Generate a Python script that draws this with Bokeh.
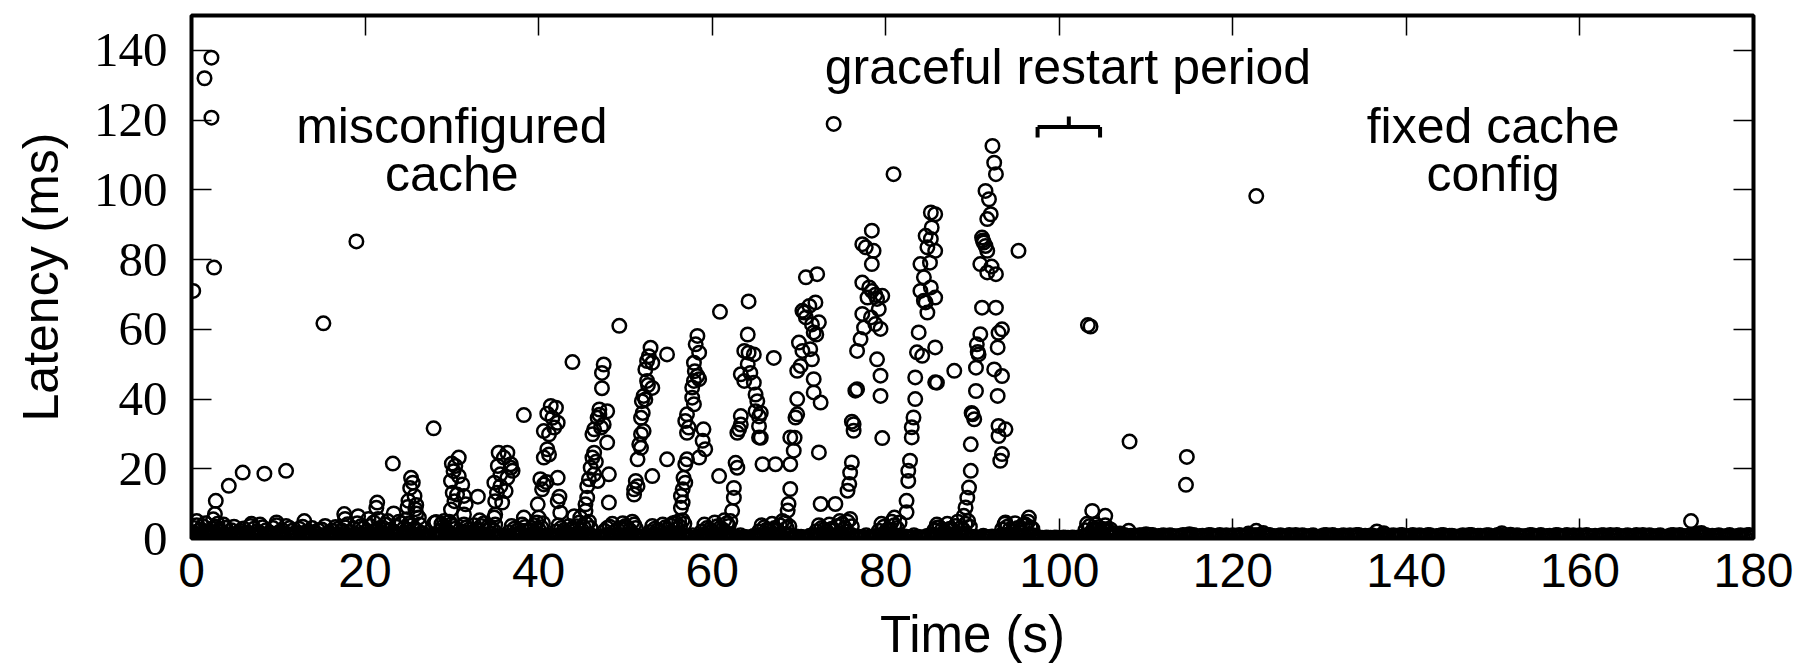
from bokeh.plotting import figure
from bokeh.models import Range1d, LinearAxis, FixedTicker
from bokeh.embed import file_html
from bokeh.resources import INLINE
from bokeh.core.properties import value

# ---------------- data (time in s, latency in ms) ----------------
x_ticks = [0, 20, 40, 60, 80, 100, 120, 140, 160, 180]
y_ticks = [0, 20, 40, 60, 80, 100, 120, 140]

# early period (0-24 s)
early_t = [0.2, 1.5, 2.3, 2.3, 2.6, 2.8, 2.7, 0.6, 4.3, 5.9, 8.4, 10.9, 15.2, 19.0,
           17.6, 17.7, 19.2, 20.4, 21.4, 21.3, 21.5, 23.2, 23.3, 13.0, 9.8, 6.9, 2.5]
early_v = [71.0, 132.0, 137.9, 120.7, 77.7, 10.8, 7.0, 5.0, 15.1, 18.9, 18.6, 19.4, 61.7, 85.2,
           7.0, 5.6, 6.4, 5.6, 10.3, 8.8, 5.6, 21.5, 7.2, 5.0, 4.6, 4.2, 5.5]

# periodic latency bursts (24-97 s)
burst_t = [
    25.3, 25.5, 25.2, 25.7, 25.0, 25.9, 25.8, 24.9, 25.9, 24.8, 26.2,
    30.8, 30.4, 30.2, 29.9, 30.8, 31.2, 30.1, 30.6, 31.4, 30.3, 31.6, 29.9, 31.4, 33.0, 33.2,
    28.0, 29.1, 30.0,
    35.4, 36.4, 36.0, 36.8, 37.0, 35.6, 36.4, 34.9, 35.6, 36.2, 35.2, 35.0, 35.8, 35.0, 34.9,
    36.8, 35.3,
    41.4, 42.0, 41.6, 42.2, 40.6, 41.2, 41.8, 41.0, 40.6, 41.2, 40.2, 40.6, 40.4, 42.2, 42.2,
    42.5, 39.9, 40.0, 38.3, 40.9, 41.0, 42.4,
    47.5, 47.3, 47.3, 47.0, 47.9, 46.8, 47.5, 46.4, 47.2, 46.2, 47.9, 46.4, 46.2, 46.0, 46.4,
    45.8, 46.8, 45.6, 48.1, 48.1, 45.6, 45.4, 45.4, 44.8, 44.1, 46.6, 47.0,
    52.9, 52.7, 52.5, 53.1, 52.3, 52.5, 53.1, 52.1, 51.9, 52.3, 51.8, 52.1, 51.8, 51.6, 51.8,
    51.4, 54.8, 54.8, 53.1, 51.2, 51.4, 51.0, 51.0, 52.0, 52.6,
    58.3, 58.1, 58.5, 57.9, 58.3, 57.9, 58.5, 57.7, 57.7, 57.9, 57.1, 56.9, 57.3, 57.1, 59.0,
    58.9, 59.2, 58.5, 57.1, 56.9, 56.7, 56.9, 56.6, 56.4, 56.6, 56.4, 56.2, 60.9, 60.8, 58.0,
    64.2, 64.1, 63.7, 64.2, 64.8, 64.1, 63.3, 64.4, 63.7, 64.8, 65.0, 65.2, 65.0, 65.4, 65.6,
    65.4, 65.6, 63.3, 63.1, 62.9, 63.3, 62.7, 62.9, 62.5, 62.5, 62.3, 65.8, 67.3, 67.1, 65.4,
    70.8, 72.1, 71.9, 71.2, 70.4, 70.8, 72.3, 71.7, 70.0, 70.4, 71.3, 71.5, 70.2, 69.8, 71.7,
    71.7, 72.5, 69.8, 69.6, 69.0, 69.4, 69.0, 69.0, 68.8, 68.7, 72.3, 72.5, 74.2, 70.6, 71.5,
    72.0, 69.8, 69.5,
    80.9, 78.4, 77.3, 77.7, 78.6, 78.4, 77.3, 78.1, 78.4, 79.6, 77.9, 79.0, 79.2, 77.3, 78.3,
    78.8, 79.4, 77.1, 76.7, 79.0, 79.4, 79.4, 76.7, 76.5, 76.3, 76.3, 79.6, 76.1, 75.9, 75.8,
    75.6, 74.0, 76.1, 77.5, 78.8,
    85.2, 85.7, 85.3, 84.6, 85.2, 84.8, 85.7, 84.0, 84.4, 85.2, 84.0, 84.4, 85.7, 84.8, 83.8,
    83.6, 84.2, 85.7, 85.7, 83.4, 83.4, 83.2, 83.0, 83.0, 82.8, 82.6, 82.6, 82.4, 82.4, 81.0,
    87.9, 85.1, 84.6, 85.9,
    92.3, 92.5, 92.7, 91.5, 91.9, 92.1, 91.7, 91.1, 91.3, 91.7, 91.5, 90.9, 91.7, 92.7, 91.1,
    92.7, 93.4, 93.0, 90.9, 90.5, 90.7, 92.9, 90.4, 92.5, 93.4, 90.4, 92.9, 90.0, 90.2, 93.0,
    93.8, 93.0, 89.8, 93.4, 93.2, 89.8, 89.6, 89.4, 89.2, 89.0, 95.3, 91.2, 90.6, 89.9, 92.2,
    27.9, 28.2, 38.3, 43.9, 49.3, 93.8, 96.5, 85.9,
]
burst_v = [
    17.4, 16.0, 14.5, 12.2, 10.8, 9.6, 8.4, 9.0, 7.2, 5.5, 6.0,
    23.2, 20.8, 19.3, 16.5, 17.9, 15.5, 13.1, 12.6, 12.2, 10.7, 9.8, 8.3, 6.9, 12.0, 5.2,
    4.5, 5.0, 21.5,
    24.6, 24.6, 23.2, 21.3, 19.4, 18.4, 17.4, 16.0, 15.0, 13.6, 13.1, 10.7, 10.3, 6.9, 6.0,
    20.3, 20.8,
    38.0, 37.5, 34.6, 33.2, 30.8, 29.9, 31.8, 25.6, 23.2, 24.1, 17.0, 15.5, 14.1, 17.4, 10.7,
    7.4, 9.8, 6.0, 6.0, 16.2, 35.8, 12.0,
    49.9, 47.5, 43.1, 37.0, 36.5, 34.6, 32.7, 31.3, 31.8, 29.9, 27.5, 24.6, 23.2, 20.3, 18.4,
    17.0, 16.5, 15.0, 18.4, 10.3, 11.7, 9.8, 7.9, 6.0, 6.4, 22.0, 35.5,
    54.7, 52.3, 50.9, 50.4, 48.5, 45.2, 43.2, 40.9, 39.4, 39.9, 34.6, 30.8, 29.9, 27.0, 26.0,
    22.7, 52.8, 22.7, 17.9, 16.5, 15.0, 12.6, 14.1, 36.0, 44.0,
    58.1, 55.7, 53.3, 50.4, 46.6, 45.2, 45.7, 43.3, 40.4, 38.5, 35.6, 33.7, 31.8, 30.3, 31.3,
    28.0, 25.6, 23.2, 22.7, 21.3, 17.4, 16.0, 14.1, 12.2, 10.3, 8.8, 5.0, 65.0, 17.9, 48.0,
    68.0, 58.5, 53.8, 53.3, 52.8, 50.0, 47.1, 47.5, 45.2, 44.7, 41.3, 39.4, 36.5, 35.0, 36.0,
    32.2, 28.9, 35.1, 31.3, 30.3, 32.7, 21.7, 20.3, 14.5, 11.7, 7.9, 21.3, 21.3, 51.8, 29.0,
    74.9, 75.8, 67.7, 66.7, 65.3, 63.4, 62.0, 59.1, 56.2, 53.8, 54.3, 51.4, 49.5, 48.1, 45.7,
    41.9, 39.0, 40.0, 34.7, 29.0, 25.2, 21.3, 14.2, 9.9, 8.0, 24.7, 9.9, 9.9, 64.8, 61.4,
    58.5, 35.6, 28.9,
    104.5, 88.3, 84.4, 83.5, 82.5, 78.7, 73.4, 72.0, 71.0, 69.6, 69.1, 68.7, 65.8, 64.4, 63.4,
    61.5, 60.1, 57.2, 53.8, 51.4, 46.7, 40.9, 42.8, 42.4, 32.8, 30.9, 28.8, 21.8, 18.9, 15.6,
    13.7, 118.9, 33.5, 60.5, 69.9,
    93.5, 93.0, 89.2, 86.8, 85.9, 83.5, 82.5, 78.7, 74.9, 72.0, 71.0, 68.2, 69.1, 64.8, 59.1,
    53.4, 52.4, 54.8, 44.8, 46.2, 40.0, 34.7, 31.9, 29.0, 22.3, 19.4, 16.5, 10.8, 7.5, 6.0,
    48.1, 79.1, 67.7, 44.7,
    112.6, 107.8, 104.5, 99.7, 97.3, 93.0, 91.6, 86.3, 84.9, 82.5, 83.9, 78.7, 76.3, 75.8, 66.2,
    66.2, 60.0, 59.0, 58.6, 55.7, 52.8, 54.8, 49.0, 48.5, 46.6, 42.3, 40.9, 35.6, 34.2, 32.3,
    31.3, 29.4, 27.0, 24.2, 22.3, 19.4, 14.6, 11.7, 8.9, 6.5, 82.5, 85.5, 53.5, 36.0, 78.0,
    31.6, 4.7, 35.4, 50.6, 61.0, 4.6, 6.0, 3.1,
]

# after the fix / graceful restart
after_t = [103.3, 103.6, 108.1, 114.7, 114.6, 103.8, 105.3, 122.7, 172.8]
after_v = [61.2, 60.8, 27.8, 23.4, 15.4, 7.9, 6.5, 98.2, 5.0]

# low-latency clumps just above the floor
clump_t = [0.3, 0.8, 1.3, 1.9, 2.4, 3.0, 3.4, 3.9, 4.6, 5.3, 6.0, 6.8, 7.5, 8.2, 9.0, 9.8,
           10.5, 11.3, 12.0, 12.8, 13.5, 14.3, 15.0, 15.8, 16.6, 17.3, 18.0, 18.7, 19.5, 20.2,
           21.0, 21.7, 22.3, 22.9, 23.6, 24.2, 24.8, 25.4, 26.0, 26.6,
           28.6, 29.0, 29.5, 29.9, 30.4,
           31.2, 31.7, 32.3, 32.9, 33.4, 34.0, 34.5, 35.0,
           36.6, 37.2, 37.8, 38.4, 39.0, 39.5, 40.0, 40.5,
           42.0, 42.6, 43.2, 43.8, 44.4, 45.0, 45.5, 46.0,
           47.6, 48.2, 48.8, 49.4, 50.0, 50.5, 51.0,
           52.8, 53.4, 54.0, 54.6, 55.2, 55.8, 56.3, 56.8,
           58.8, 59.4, 60.0, 60.6, 61.2, 61.7, 62.1,
           65.4, 66.0, 66.6, 67.2, 67.8, 68.4, 68.9,
           72.0, 72.6, 73.2, 73.8, 74.4, 75.0, 75.6, 76.1,
           79.2, 79.8, 80.4, 81.0, 81.6,
           85.6, 86.2, 86.8, 87.4, 88.0, 88.6, 89.2, 89.7,
           93.4, 94.0, 94.6, 95.2, 95.8, 96.4, 96.9,
           103.0, 103.5, 104.0, 104.5, 105.0, 105.6, 106.2,
           107.0, 108.0, 110.0, 115.0, 121.8, 122.7, 123.5, 136.6, 137.4, 151.0, 152.0,
           173.5, 174.0]
clump_v = [3.0, 2.2, 3.6, 1.8, 2.8, 4.2, 2.0, 3.1, 2.4, 1.6, 2.9, 3.6, 2.0, 3.2, 1.7, 3.8,
           2.3, 3.0, 1.5, 3.4, 2.1, 1.6, 2.6, 1.8, 3.3, 2.4, 4.1, 2.8, 3.5, 2.2,
           4.6, 3.0, 4.0, 2.5, 3.4, 4.4, 2.6, 3.8, 2.3, 1.6,
           2.2, 3.4, 2.0, 4.0, 2.8,
           2.0, 3.2, 1.8, 2.6, 3.6, 2.2, 3.0, 4.0,
           1.8, 2.8, 1.6, 3.3, 2.4, 3.8, 2.6, 4.4,
           2.0, 3.0, 1.8, 2.7, 3.5, 2.4, 4.2, 3.0,
           2.2, 3.4, 2.0, 2.9, 3.6, 2.4, 4.0,
           1.9, 2.8, 2.2, 3.2, 3.8, 4.6, 3.4, 4.2,
           2.0, 3.0, 2.2, 3.5, 2.6, 4.4, 5.0,
           2.0, 3.2, 2.4, 3.0, 3.8, 4.6, 3.5,
           2.1, 3.0, 2.0, 2.8, 3.6, 4.2, 4.8, 3.5,
           2.2, 3.4, 2.6, 3.8, 4.6,
           2.4, 3.2, 2.0, 2.8, 3.6, 3.0, 4.2, 3.4,
           2.6, 3.4, 2.2, 3.0, 3.8, 4.8, 2.8,
           2.4, 3.6, 2.8, 3.2, 2.6, 2.0, 1.6,
           1.4, 2.2, 1.2, 1.2, 1.4, 2.2, 1.6, 2.0, 1.5, 1.5, 1.1,
           1.4, 1.6]

# more low-latency samples inside the same clumps
clump2_t = [0.1, 0.6, 1.1, 1.6, 2.1, 2.7, 3.2, 3.7,
            4.9, 5.6, 6.4, 7.2, 7.9, 8.6, 9.4, 10.2, 10.9, 11.6, 12.4, 13.2, 13.9, 14.6, 15.4,
            16.2, 16.9, 17.7, 18.4, 19.1, 19.8, 20.6, 21.3, 22.0, 22.6, 23.3, 23.9, 24.5, 25.1,
            25.7, 26.3,
            28.8, 29.3, 29.7, 30.2,
            31.4, 32.0, 32.6, 33.1, 33.7, 34.2, 34.8,
            36.9, 37.5, 38.1, 38.7, 39.2, 39.8, 40.3,
            42.3, 42.9, 43.5, 44.1, 44.7, 45.2, 45.8,
            47.9, 48.5, 49.1, 49.7, 50.2, 50.8, 51.2,
            53.1, 53.7, 54.3, 54.9, 55.5, 56.0, 56.6,
            59.1, 59.7, 60.3, 60.9, 61.4, 61.9,
            65.7, 66.3, 66.9, 67.5, 68.1, 68.6,
            72.3, 72.9, 73.5, 74.1, 74.7, 75.3, 75.9,
            79.5, 80.1, 80.7, 81.3,
            85.9, 86.5, 87.1, 87.7, 88.3, 88.9, 89.5,
            93.7, 94.3, 94.9, 95.5, 96.1, 96.7,
            103.2, 103.8, 104.2, 104.8, 105.3, 105.9]
clump2_v = [1.8, 3.8, 2.6, 4.4, 2.0, 3.4, 2.6, 4.0,
            3.4, 2.2, 1.8, 2.8, 4.0, 2.4, 3.0, 2.0, 3.6, 2.2, 2.8, 1.8, 3.0, 2.4, 3.6,
            2.2, 2.8, 3.2, 1.9, 4.4, 3.0, 3.6, 2.4, 3.2, 5.0, 2.0, 4.8, 3.0, 4.4,
            2.8, 4.0,
            4.2, 2.6, 4.8, 3.6,
            4.0, 2.6, 3.8, 2.2, 4.4, 3.4, 2.4,
            3.6, 2.2, 4.0, 2.0, 3.0, 4.6, 3.2,
            3.8, 2.4, 3.6, 2.2, 4.6, 3.2, 4.8,
            3.0, 4.2, 2.6, 4.4, 3.2, 4.8, 3.0,
            3.6, 2.4, 4.0, 2.6, 4.4, 2.8, 5.2,
            4.0, 2.6, 4.6, 3.0, 5.2, 3.6,
            3.8, 2.6, 4.2, 2.4, 5.0, 3.0,
            3.8, 2.6, 4.0, 2.4, 5.0, 3.0, 5.6,
            4.2, 2.4, 4.8, 3.0,
            4.0, 2.6, 4.2, 2.4, 4.8, 2.6, 5.0,
            4.2, 2.6, 4.4, 2.4, 4.0, 3.2,
            4.2, 2.2, 4.0, 2.0, 3.8, 2.6]

# the floor: near-zero latencies throughout the run
floor_t = [
    0.0, 0.5, 1.0, 1.5, 2.0, 2.5, 3.0, 3.5, 4.0, 4.5, 5.0, 5.5, 6.0, 6.5, 7.0, 7.5, 8.0, 8.5, 9.0, 9.5,
    10.0, 10.5, 11.0, 11.5, 12.0, 12.5, 13.0, 13.5, 14.0, 14.5, 15.0, 15.5, 16.0, 16.5, 17.0, 17.5, 18.0, 18.5, 19.0, 19.5,
    20.0, 20.5, 21.0, 21.5, 22.0, 22.5, 23.0, 23.5, 24.0, 24.5, 25.0, 25.5, 26.0, 26.5, 27.0, 27.5, 28.0, 28.5, 29.0, 29.5,
    30.0, 30.5, 31.0, 31.5, 32.0, 32.5, 33.0, 33.5, 34.0, 34.5, 35.0, 35.5, 36.0, 36.5, 37.0, 37.5, 38.0, 38.5, 39.0, 39.5,
    40.0, 40.5, 41.0, 41.5, 42.0, 42.5, 43.0, 43.5, 44.0, 44.5, 45.0, 45.5, 46.0, 46.5, 47.0, 47.5, 48.0, 48.5, 49.0, 49.5,
    50.0, 50.5, 51.0, 51.5, 52.0, 52.5, 53.0, 53.5, 54.0, 54.5, 55.0, 55.5, 56.0, 56.5, 57.0, 57.5, 58.0, 58.5, 59.0, 59.5,
    60.0, 60.5, 61.0, 61.5, 62.0, 62.5, 63.0, 63.5, 64.0, 64.5, 65.0, 65.5, 66.0, 66.5, 67.0, 67.5, 68.0, 68.5, 69.0, 69.5,
    70.0, 70.5, 71.0, 71.5, 72.0, 72.5, 73.0, 73.5, 74.0, 74.5, 75.0, 75.5, 76.0, 76.5, 77.0, 77.5, 78.0, 78.5, 79.0, 79.5,
    80.0, 80.5, 81.0, 81.5, 82.0, 82.5, 83.0, 83.5, 84.0, 84.5, 85.0, 85.5, 86.0, 86.5, 87.0, 87.5, 88.0, 88.5, 89.0, 89.5,
    90.0, 90.5, 91.0, 91.5, 92.0, 92.5, 93.0, 93.5, 94.0, 94.5, 95.0, 95.5, 96.0, 96.5, 97.0, 97.5, 98.0, 98.5, 99.0, 99.5,
    100.0, 100.5, 101.0, 101.5, 102.0, 102.5, 103.0, 103.5, 104.0, 104.5, 105.0, 105.5,
    106.0, 106.5, 107.0, 107.5, 108.0, 108.5, 109.0, 109.5, 110.0, 110.5, 111.0, 111.5, 112.0, 112.5, 113.0, 113.5,
    114.0, 114.5, 115.0, 115.5, 116.0, 116.5, 117.0, 117.5, 118.0, 118.5, 119.0, 119.5, 120.0, 120.5, 121.0, 121.5,
    122.0, 122.5, 123.0, 123.5, 124.0, 124.5, 125.0, 125.5, 126.0, 126.5, 127.0, 127.5, 128.0, 128.5, 129.0, 129.5,
    130.0, 130.5, 131.0, 131.5, 132.0, 132.5, 133.0, 133.5, 134.0, 134.5, 135.0, 135.5, 136.0, 136.5, 137.0, 137.5,
    138.0, 138.5, 139.0, 139.5, 140.0, 140.5, 141.0, 141.5, 142.0, 142.5, 143.0, 143.5, 144.0, 144.5, 145.0, 145.5,
    146.0, 146.5, 147.0, 147.5, 148.0, 148.5, 149.0, 149.5, 150.0, 150.5, 151.0, 151.5, 152.0, 152.5, 153.0, 153.5,
    154.0, 154.5, 155.0, 155.5, 156.0, 156.5, 157.0, 157.5, 158.0, 158.5, 159.0, 159.5, 160.0, 160.5, 161.0, 161.5,
    162.0, 162.5, 163.0, 163.5, 164.0, 164.5, 165.0, 165.5, 166.0, 166.5, 167.0, 167.5, 168.0, 168.5, 169.0, 169.5,
    170.0, 170.5, 171.0, 171.5, 172.0, 172.5, 173.0, 173.5, 174.0, 174.5, 175.0, 175.5, 176.0, 176.5, 177.0, 177.5,
    178.0, 178.5, 179.0, 179.5, 180.0,
]
floor_v = [
    0.9, 1.2, 0.6, 1.4, 1.0, 1.6, 0.8, 1.3, 0.7, 1.1, 0.9, 1.5, 0.6, 1.2, 1.0, 0.8, 1.4, 0.7, 1.1, 0.9,
    1.3, 0.6, 1.0, 1.2, 0.8, 1.5, 0.7, 1.1, 0.9, 1.3, 0.6, 1.0, 1.4, 0.8, 1.2, 0.9, 1.1, 0.7, 1.3, 1.0,
    0.8, 1.2, 0.6, 1.4, 1.0, 0.9, 1.3, 0.7, 1.1, 1.5, 0.8, 1.2, 1.0, 0.6, 0.3, 0.2, 0.5, 0.8, 1.1, 0.9,
    1.2, 0.7, 1.0, 1.3, 0.8, 1.1, 0.6, 1.2, 0.9, 1.4, 0.7, 0.3, 0.2, 0.6, 1.0, 0.8, 1.2, 0.7, 1.1, 0.9,
    1.3, 0.8, 0.4, 0.2, 0.7, 1.0, 1.2, 0.8, 1.1, 0.6, 1.3, 0.9, 1.0, 0.4, 0.2, 0.6, 1.1, 0.8, 1.2, 0.7,
    1.0, 1.3, 0.8, 0.3, 0.2, 0.6, 1.0, 1.2, 0.7, 1.1, 0.9, 1.3, 0.8, 1.0, 0.6, 0.3, 0.2, 0.7, 1.1, 0.8,
    1.2, 0.9, 1.0, 0.7, 1.3, 0.4, 0.2, 0.3, 0.2, 0.4, 0.6, 1.0, 0.8, 1.2, 0.9, 1.1, 0.7, 1.3, 1.0, 0.4,
    0.2, 0.3, 0.2, 0.5, 0.9, 1.1, 0.7, 1.2, 0.8, 1.0, 1.3, 0.9, 1.1, 0.6, 0.3, 0.2, 0.3, 0.2, 0.6, 1.0,
    0.8, 1.2, 0.9, 0.4, 0.2, 0.3, 0.2, 0.3, 0.2, 0.4, 0.8, 1.1, 0.9, 1.2, 0.7, 1.0, 1.3, 0.8, 1.1, 0.9,
    0.4, 0.2, 0.3, 0.2, 0.3, 0.2, 0.4, 0.8, 1.1, 0.9, 1.2, 0.8, 1.0, 1.3, 0.9, 0.4, 0.2, 0.3, 0.2, 0.3,
    0.2, 0.3, 0.2, 0.3, 0.2, 0.4, 0.8, 1.1, 1.3, 0.9, 1.2, 1.0,
    0.4, 0.9, 0.6, 1.0, 0.5, 0.8, 0.3, 0.9, 0.6, 1.0, 0.4, 0.7, 0.9, 0.5, 0.8, 0.6,
    0.4, 0.9, 0.6, 1.0, 0.5, 0.8, 0.3, 0.9, 0.6, 1.0, 0.4, 0.7, 0.9, 0.5, 0.8, 0.6,
    0.4, 0.9, 0.6, 1.0, 0.5, 0.8, 0.3, 0.9, 0.6, 1.0, 0.4, 0.7, 0.9, 0.5, 0.8, 0.6,
    0.4, 0.9, 0.6, 1.0, 0.5, 0.8, 0.3, 0.9, 0.6, 1.0, 0.4, 0.7, 0.9, 0.5, 0.8, 0.6,
    0.4, 0.9, 0.6, 1.0, 0.5, 0.8, 0.3, 0.9, 0.6, 1.0, 0.4, 0.7, 0.9, 0.5, 0.8, 0.6,
    0.4, 0.9, 0.6, 1.0, 0.5, 0.8, 0.3, 0.9, 0.6, 1.0, 0.4, 0.7, 0.9, 0.5, 0.8, 0.6,
    0.4, 0.9, 0.6, 1.0, 0.5, 0.8, 0.3, 0.9, 0.6, 1.0, 0.4, 0.7, 0.9, 0.5, 0.8, 0.6,
    0.4, 0.9, 0.6, 1.0, 0.5, 0.8, 0.3, 0.9, 0.6, 1.0, 0.4, 0.7, 0.9, 0.5, 0.8, 0.6,
    0.4, 0.9, 0.6, 1.0, 0.5, 0.8, 0.3, 0.9, 0.6, 1.0, 0.4, 0.7, 0.9, 0.5, 0.8, 0.6,
    0.4, 0.9, 0.6, 1.0, 0.5,
]

# second row of floor samples, between the first ones
floor2_t = [
    0.25, 0.75, 1.25, 1.75, 2.25, 2.75, 3.25, 3.75, 4.25, 4.75, 5.25, 5.75, 6.25, 6.75, 7.25, 7.75, 8.25, 8.75, 9.25, 9.75,
    10.25, 10.75, 11.25, 11.75, 12.25, 12.75, 13.25, 13.75, 14.25, 14.75, 15.25, 15.75, 16.25, 16.75, 17.25, 17.75, 18.25, 18.75, 19.25, 19.75,
    20.25, 20.75, 21.25, 21.75, 22.25, 22.75, 23.25, 23.75, 24.25, 24.75, 25.25, 25.75, 26.25, 26.75, 27.25, 27.75, 28.25, 28.75, 29.25, 29.75,
    30.25, 30.75, 31.25, 31.75, 32.25, 32.75, 33.25, 33.75, 34.25, 34.75, 35.25, 35.75, 36.25, 36.75, 37.25, 37.75, 38.25, 38.75, 39.25, 39.75,
    40.25, 40.75, 41.25, 41.75, 42.25, 42.75, 43.25, 43.75, 44.25, 44.75, 45.25, 45.75, 46.25, 46.75, 47.25, 47.75, 48.25, 48.75, 49.25, 49.75,
    50.25, 50.75, 51.25, 51.75, 52.25, 52.75, 53.25, 53.75, 54.25, 54.75, 55.25, 55.75, 56.25, 56.75, 57.25, 57.75, 58.25, 58.75, 59.25, 59.75,
    60.25, 60.75, 61.25, 61.75, 62.25, 62.75, 63.25, 63.75, 64.25, 64.75, 65.25, 65.75, 66.25, 66.75, 67.25, 67.75, 68.25, 68.75, 69.25, 69.75,
    70.25, 70.75, 71.25, 71.75, 72.25, 72.75, 73.25, 73.75, 74.25, 74.75, 75.25, 75.75, 76.25, 76.75, 77.25, 77.75, 78.25, 78.75, 79.25, 79.75,
    80.25, 80.75, 81.25, 81.75, 82.25, 82.75, 83.25, 83.75, 84.25, 84.75, 85.25, 85.75, 86.25, 86.75, 87.25, 87.75, 88.25, 88.75, 89.25, 89.75,
    90.25, 90.75, 91.25, 91.75, 92.25, 92.75, 93.25, 93.75, 94.25, 94.75, 95.25, 95.75, 96.25, 96.75, 97.25, 97.75, 98.25, 98.75, 99.25, 99.75,
    100.25, 100.75, 101.25, 101.75, 102.25, 102.75, 103.25, 103.75, 104.25, 104.75, 105.25, 105.75,
    106.25, 106.75, 107.25, 107.75, 108.25, 108.75, 109.25, 109.75, 110.25, 110.75, 111.25, 111.75, 112.25, 112.75, 113.25, 113.75, 114.25, 114.75, 115.25, 115.75,
    116.25, 116.75, 117.25, 117.75, 118.25, 118.75, 119.25, 119.75, 120.25, 120.75, 121.25, 121.75, 122.25, 122.75, 123.25, 123.75, 124.25, 124.75, 125.25, 125.75,
    126.25, 126.75, 127.25, 127.75, 128.25, 128.75, 129.25, 129.75, 130.25, 130.75, 131.25, 131.75, 132.25, 132.75, 133.25, 133.75, 134.25, 134.75, 135.25, 135.75,
    136.25, 136.75, 137.25, 137.75, 138.25, 138.75, 139.25, 139.75, 140.25, 140.75, 141.25, 141.75, 142.25, 142.75, 143.25, 143.75, 144.25, 144.75, 145.25, 145.75,
    146.25, 146.75, 147.25, 147.75, 148.25, 148.75, 149.25, 149.75, 150.25, 150.75, 151.25, 151.75, 152.25, 152.75, 153.25, 153.75, 154.25, 154.75, 155.25, 155.75,
    156.25, 156.75, 157.25, 157.75, 158.25, 158.75, 159.25, 159.75, 160.25, 160.75, 161.25, 161.75, 162.25, 162.75, 163.25, 163.75, 164.25, 164.75, 165.25, 165.75,
    166.25, 166.75, 167.25, 167.75, 168.25, 168.75, 169.25, 169.75, 170.25, 170.75, 171.25, 171.75, 172.25, 172.75, 173.25, 173.75, 174.25, 174.75, 175.25, 175.75,
    176.25, 176.75, 177.25, 177.75, 178.25, 178.75, 179.25, 179.75,
]
floor2_v = [
    0.5, 0.2, 0.8, 0.4, 0.6, 0.3, 0.9, 0.5, 0.2, 0.7, 0.4, 0.8, 0.3, 0.6, 0.5, 0.9, 0.2, 0.7, 0.4, 0.6,
    0.5, 0.2, 0.8, 0.4, 0.6, 0.3, 0.9, 0.5, 0.2, 0.7, 0.4, 0.8, 0.3, 0.6, 0.5, 0.9, 0.2, 0.7, 0.4, 0.6,
    0.5, 0.2, 0.8, 0.4, 0.6, 0.3, 0.9, 0.5, 0.2, 0.7, 0.4, 0.8, 0.3, 0.6, 0.5, 0.9, 0.2, 0.7, 0.4, 0.6,
    0.5, 0.2, 0.8, 0.4, 0.6, 0.3, 0.9, 0.5, 0.2, 0.7, 0.4, 0.8, 0.3, 0.6, 0.5, 0.9, 0.2, 0.7, 0.4, 0.6,
    0.5, 0.2, 0.8, 0.4, 0.6, 0.3, 0.9, 0.5, 0.2, 0.7, 0.4, 0.8, 0.3, 0.6, 0.5, 0.9, 0.2, 0.7, 0.4, 0.6,
    0.5, 0.2, 0.8, 0.4, 0.6, 0.3, 0.9, 0.5, 0.2, 0.7, 0.4, 0.8, 0.3, 0.6, 0.5, 0.9, 0.2, 0.7, 0.4, 0.6,
    0.5, 0.2, 0.8, 0.4, 0.6, 0.3, 0.9, 0.5, 0.2, 0.7, 0.4, 0.8, 0.3, 0.6, 0.5, 0.9, 0.2, 0.7, 0.4, 0.6,
    0.5, 0.2, 0.8, 0.4, 0.6, 0.3, 0.9, 0.5, 0.2, 0.7, 0.4, 0.8, 0.3, 0.6, 0.5, 0.9, 0.2, 0.7, 0.4, 0.6,
    0.5, 0.2, 0.8, 0.4, 0.6, 0.3, 0.9, 0.5, 0.2, 0.7, 0.4, 0.8, 0.3, 0.6, 0.5, 0.9, 0.2, 0.7, 0.4, 0.6,
    0.5, 0.2, 0.8, 0.4, 0.6, 0.3, 0.9, 0.5, 0.2, 0.7, 0.4, 0.8, 0.3, 0.6, 0.1, 0.2, 0.1, 0.2, 0.1, 0.2,
    0.1, 0.2, 0.1, 0.2, 0.1, 0.6, 0.9, 0.5, 0.8, 0.7, 0.4, 0.8,
    0.7, 0.4, 1.0, 0.6, 0.8, 0.5, 0.9, 0.3, 0.7, 1.0, 0.5, 0.8, 0.6, 0.9, 0.4, 0.7, 1.0, 0.6, 0.8, 0.5,
    0.7, 0.4, 1.0, 0.6, 0.8, 0.5, 0.9, 0.3, 0.7, 1.0, 0.5, 0.8, 0.6, 0.9, 0.4, 0.7, 1.0, 0.6, 0.8, 0.5,
    0.7, 0.4, 1.0, 0.6, 0.8, 0.5, 0.9, 0.3, 0.7, 1.0, 0.5, 0.8, 0.6, 0.9, 0.4, 0.7, 1.0, 0.6, 0.8, 0.5,
    0.7, 0.4, 1.0, 0.6, 0.8, 0.5, 0.9, 0.3, 0.7, 1.0, 0.5, 0.8, 0.6, 0.9, 0.4, 0.7, 1.0, 0.6, 0.8, 0.5,
    0.7, 0.4, 1.0, 0.6, 0.8, 0.5, 0.9, 0.3, 0.7, 1.0, 0.5, 0.8, 0.6, 0.9, 0.4, 0.7, 1.0, 0.6, 0.8, 0.5,
    0.7, 0.4, 1.0, 0.6, 0.8, 0.5, 0.9, 0.3, 0.7, 1.0, 0.5, 0.8, 0.6, 0.9, 0.4, 0.7, 1.0, 0.6, 0.8, 0.5,
    0.7, 0.4, 1.0, 0.6, 0.8, 0.5, 0.9, 0.3, 0.7, 1.0, 0.5, 0.8, 0.6, 0.9, 0.4, 0.7, 1.0, 0.6, 0.8, 0.5,
    0.7, 0.4, 1.0, 0.6, 0.8, 0.5, 0.9, 0.3,
]

# annotations
ann_text = ["misconfigured", "cache", "graceful restart period", "fixed cache", "config"]
ann_t = [30.0, 30.0, 101.0, 150.0, 150.0]
ann_v = [118.4, 104.5, 135.1, 118.4, 104.5]

# bracket marking the restart period
br_x0 = [97.5, 97.5, 104.7, 101.1]
br_y0 = [118.0, 118.0, 118.0, 118.0]
br_x1 = [104.7, 97.5, 104.7, 101.1]
br_y1 = [118.0, 115.0, 115.0, 121.0]

# ---------------- figure ----------------
SANS = "Liberation Sans"
SERIF = "Liberation Serif"

p = figure(width=1801, height=667, x_range=Range1d(0, 180), y_range=Range1d(0, 150),
           output_backend="svg", toolbar_location=None,
           min_border_left=191, min_border_right=48, min_border_top=15, min_border_bottom=129)
p.grid.visible = False
p.background_fill_color = "white"
p.border_fill_color = "white"
p.outline_line_color = "black"
p.outline_line_width = 4

def style_axis(ax, ticks, show_labels, font, size):
    ax.ticker = FixedTicker(ticks=ticks, minor_ticks=[])
    ax.major_tick_in = 20
    ax.major_tick_out = 0
    ax.major_tick_line_width = 1.5
    ax.major_tick_line_color = "black"
    ax.minor_tick_line_color = None
    ax.axis_line_color = None
    if show_labels:
        ax.major_label_text_font = font
        ax.major_label_text_font_size = size
        ax.major_label_text_color = "black"
    else:
        ax.major_label_text_font_size = "8px"
        ax.major_label_text_color = None
        ax.major_label_text_alpha = 0
        ax.major_label_standoff = 0

xa = p.xaxis[0]
style_axis(xa, x_ticks, True, SANS, "48px")
xa.major_label_standoff = 15
xa.axis_label = "Time (s)"
xa.axis_label_text_font = SANS
xa.axis_label_text_font_size = "51px"
xa.axis_label_text_font_style = "normal"
xa.axis_label_text_color = "black"
xa.axis_label_standoff = 16

ya = p.yaxis[0]
style_axis(ya, y_ticks, True, SERIF, "49px")
ya.major_label_standoff = 24
ya.axis_label = "Latency (ms)"
ya.axis_label_text_font = SANS
ya.axis_label_text_font_size = "50px"
ya.axis_label_text_font_style = "normal"
ya.axis_label_text_color = "black"
ya.axis_label_standoff = 22

top = LinearAxis()
style_axis(top, x_ticks, False, SANS, "0px")
p.add_layout(top, "above")
right = LinearAxis()
style_axis(right, y_ticks, False, SANS, "0px")
p.add_layout(right, "right")

all_t = floor_t + floor2_t + clump_t + clump2_t + early_t + burst_t + after_t
all_v = floor_v + floor2_v + clump_v + clump2_v + early_v + burst_v + after_v
p.scatter(x=all_t, y=all_v, marker="circle", size=13.5, fill_color=None,
          line_color="black", line_width=2.5)

p.segment(x0=br_x0, y0=br_y0, x1=br_x1, y1=br_y1, line_color="black", line_width=4)

p.text(x=ann_t, y=ann_v, text=ann_text, text_font=value(SANS), text_font_size=value("50px"),
       text_align="center", text_baseline="alphabetic", text_color="black")

open("out.html", "w").write(file_html(p, INLINE))
